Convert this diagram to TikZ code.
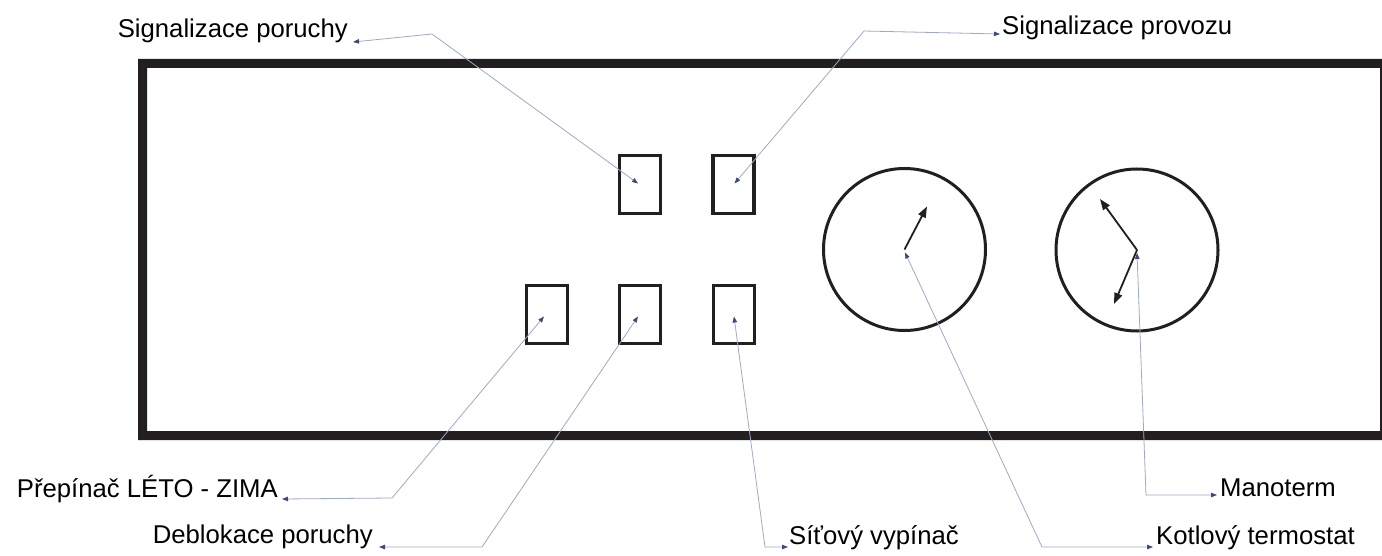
\documentclass[tikz,border=0pt]{standalone}
\usepackage{fontspec}
\setmainfont{Liberation Sans}
\usetikzlibrary{arrows.meta,calc}
\definecolor{ink}{RGB}{35,31,32}
\definecolor{leader}{RGB}{160,168,200}
\definecolor{leadtip}{RGB}{60,75,125}
\begin{document}
\begin{tikzpicture}[x=1pt,y=-1pt,
  panelbox/.style={draw=ink,line width=3.2pt,minimum width=41pt,minimum height=58pt,inner sep=0pt},
  dial/.style={circle,draw=ink,line width=3pt,minimum size=162pt,inner sep=0pt},
  needle/.style={draw=ink,line width=1.8pt,-{Triangle[length=11pt,width=8pt]}},
  leaderline/.style={draw=leader,line width=0.8pt,
    {Triangle[length=6pt,width=4.5pt,color=leadtip]}-{Triangle[length=6pt,width=4.5pt,color=leadtip]}},
  lbl/.style={inner sep=0pt,font=\fontsize{25.7}{30}\selectfont}]
% canvas
\fill[white] (0,0) rectangle (1382,556);
\useasboundingbox (0,0) rectangle (1382,556);

% front panel frame (heavy left/top/bottom edges, thin right edge)
\fill[ink,even odd rule] (138,59) rectangle (1382,440) (147,68) rectangle (1380,431);

% lamps and switches
\node[panelbox] (r1) at (640,184.5) {};
\node[panelbox] (r2) at (733.5,184.5) {};
\node[panelbox] (ra) at (547,314.5) {};
\node[panelbox] (rb) at (640,314.5) {};
\node[panelbox] (rc) at (734,314.5) {};

% gauges
\node[dial] (c1) at (904.5,249.5) {};
\node[dial] (c2) at (1137,250) {};
\draw[needle] (c1.center) -- ($(c1.center)+(22.5,-43)$);
\draw[needle] (c2.center) -- ($(c2.center)+(-37,-51)$);
\draw[needle] (c2.center) -- ($(c2.center)+(-23,54)$);

% labels
\node[lbl,anchor=base east] (sp) at (348,38) {Signalizace poruchy};
\node[lbl,anchor=base west] (pv) at (1002,35) {Signalizace provozu};
\node[lbl,anchor=base east] (lz) at (278,497) {Přepínač LÉTO - ZIMA};
\node[lbl,anchor=base east] (db) at (373,543) {Deblokace poruchy};
\node[lbl,anchor=base west] (sv) at (789,544) {Síťový vypínač};
\node[lbl,anchor=base west] (kt) at (1156,544) {Kotlový termostat};
\node[lbl,anchor=base west] (mt) at (1220,496) {Manoterm};

% leader line bends
\coordinate (k1) at (432,34);
\coordinate (k2) at (864,31);
\coordinate (k3) at (392,498);
\coordinate (k4) at (482,547);
\coordinate (k5) at (765,547);
\coordinate (k6) at (1042,547);
\coordinate (k7) at (1146,495);

% leader lines
\draw[leaderline] ($(sp.base east)+(5,4)$) -- (k1) -- ($(r1.center)+(-2,-1)$);
\draw[leaderline] ($(pv.base west)+(-2,-1)$) -- (k2) -- ($(r2.center)+(1,-1)$);
\draw[leaderline] ($(lz.base east)+(4,2)$) -- (k3) -- ($(ra.center)+(-3,2)$);
\draw[leaderline] ($(db.base east)+(6,4)$) -- (k4) -- ($(rb.center)+(-2,2)$);
\draw[leaderline] ($(sv.base west)+(-1,3)$) -- (k5) -- ($(rc.center)+(0,2)$);
\draw[leaderline] ($(kt.base west)+(-3,3)$) -- (k6) -- ($(c1.center)+(0.5,3)$);
\draw[leaderline] ($(mt.base west)+(-3,-1)$) -- (k7) -- ($(c2.center)+(0,3)$);
\end{tikzpicture}
\end{document}
